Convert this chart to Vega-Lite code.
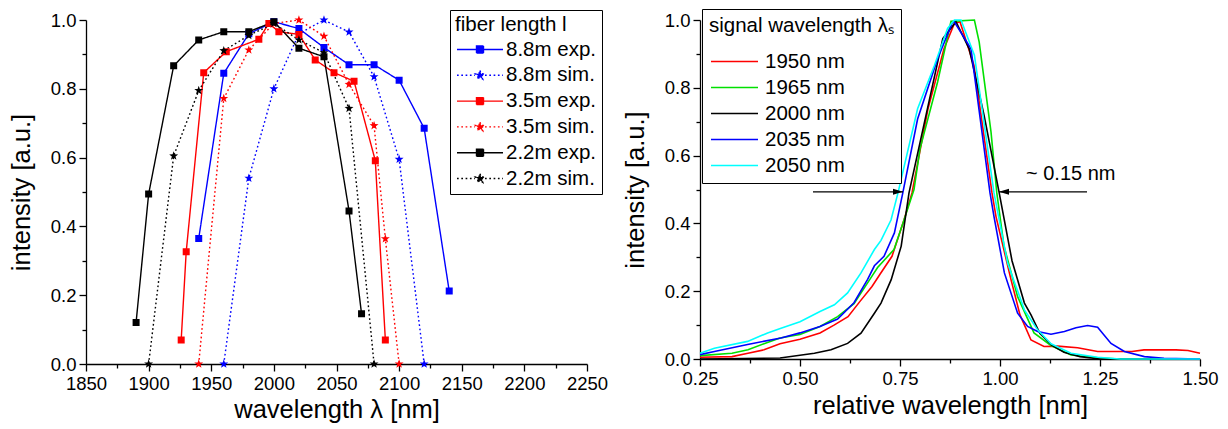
{
  "$schema": "https://vega.github.io/schema/vega-lite/v6.json",
  "background": "white",
  "padding": {"left": 9, "top": 8, "right": 5, "bottom": 5},
  "spacing": 15,
  "config": {
    "font": "Liberation Sans",
    "view": {"stroke": null},
    "axis": {
      "domainColor": "black", "tickColor": "black", "labelColor": "black", "titleColor": "black",
      "labelFont": "Liberation Sans", "titleFont": "Liberation Sans",
      "labelFontSize": 18.5, "titleFontSize": 25.5, "titleFontWeight": "normal",
      "grid": false, "domainWidth": 1.3, "tickWidth": 1.3, "labelOverlap": false, "labelFlush": false
    },
    "legend": {
      "labelFont": "Liberation Sans", "titleFont": "Liberation Sans",
      "labelColor": "black", "titleColor": "black", "titleFontWeight": "normal",
      "strokeColor": "black", "fillColor": "white", "cornerRadius": 0, "titleLimit": 400, "labelLimit": 300
    }
  },
  "datasets": {
    "fiber": [
      {"series": "8.8m exp.", "x": 1940, "y": 0.365}, {"series": "8.8m exp.", "x": 1960, "y": 0.845}, {"series": "8.8m exp.", "x": 1980, "y": 0.96}, {"series": "8.8m exp.", "x": 2000, "y": 0.995}, {"series": "8.8m exp.", "x": 2020, "y": 0.975}, {"series": "8.8m exp.", "x": 2040, "y": 0.92}, {"series": "8.8m exp.", "x": 2060, "y": 0.87}, {"series": "8.8m exp.", "x": 2080, "y": 0.87}, {"series": "8.8m exp.", "x": 2100, "y": 0.825}, {"series": "8.8m exp.", "x": 2120, "y": 0.685}, {"series": "8.8m exp.", "x": 2140, "y": 0.212},
      {"series": "8.8m sim.", "x": 1960, "y": 0}, {"series": "8.8m sim.", "x": 1980, "y": 0.54}, {"series": "8.8m sim.", "x": 2000, "y": 0.8}, {"series": "8.8m sim.", "x": 2020, "y": 0.96}, {"series": "8.8m sim.", "x": 2040, "y": 1.0}, {"series": "8.8m sim.", "x": 2060, "y": 0.965}, {"series": "8.8m sim.", "x": 2080, "y": 0.835}, {"series": "8.8m sim.", "x": 2100, "y": 0.595}, {"series": "8.8m sim.", "x": 2120, "y": 0},
      {"series": "3.5m exp.", "x": 1926, "y": 0.07}, {"series": "3.5m exp.", "x": 1930, "y": 0.326}, {"series": "3.5m exp.", "x": 1944, "y": 0.847}, {"series": "3.5m exp.", "x": 1962, "y": 0.908}, {"series": "3.5m exp.", "x": 1988, "y": 0.944}, {"series": "3.5m exp.", "x": 1996, "y": 0.99}, {"series": "3.5m exp.", "x": 2004, "y": 0.966}, {"series": "3.5m exp.", "x": 2020, "y": 0.958}, {"series": "3.5m exp.", "x": 2033, "y": 0.884}, {"series": "3.5m exp.", "x": 2048, "y": 0.847}, {"series": "3.5m exp.", "x": 2064, "y": 0.822}, {"series": "3.5m exp.", "x": 2081, "y": 0.591}, {"series": "3.5m exp.", "x": 2089, "y": 0.07},
      {"series": "3.5m sim.", "x": 1940, "y": 0}, {"series": "3.5m sim.", "x": 1960, "y": 0.772}, {"series": "3.5m sim.", "x": 1980, "y": 0.913}, {"series": "3.5m sim.", "x": 2000, "y": 0.99}, {"series": "3.5m sim.", "x": 2020, "y": 1.0}, {"series": "3.5m sim.", "x": 2040, "y": 0.953}, {"series": "3.5m sim.", "x": 2060, "y": 0.813}, {"series": "3.5m sim.", "x": 2080, "y": 0.693}, {"series": "3.5m sim.", "x": 2089, "y": 0.364}, {"series": "3.5m sim.", "x": 2100, "y": 0},
      {"series": "2.2m exp.", "x": 1890, "y": 0.121}, {"series": "2.2m exp.", "x": 1900, "y": 0.494}, {"series": "2.2m exp.", "x": 1920, "y": 0.867}, {"series": "2.2m exp.", "x": 1940, "y": 0.942}, {"series": "2.2m exp.", "x": 1960, "y": 0.966}, {"series": "2.2m exp.", "x": 1980, "y": 0.966}, {"series": "2.2m exp.", "x": 2000, "y": 0.995}, {"series": "2.2m exp.", "x": 2020, "y": 0.918}, {"series": "2.2m exp.", "x": 2040, "y": 0.893}, {"series": "2.2m exp.", "x": 2060, "y": 0.445}, {"series": "2.2m exp.", "x": 2070, "y": 0.146},
      {"series": "2.2m sim.", "x": 1900, "y": 0}, {"series": "2.2m sim.", "x": 1920, "y": 0.605}, {"series": "2.2m sim.", "x": 1940, "y": 0.795}, {"series": "2.2m sim.", "x": 1960, "y": 0.911}, {"series": "2.2m sim.", "x": 1980, "y": 0.955}, {"series": "2.2m sim.", "x": 2000, "y": 0.99}, {"series": "2.2m sim.", "x": 2020, "y": 0.942}, {"series": "2.2m sim.", "x": 2040, "y": 0.905}, {"series": "2.2m sim.", "x": 2060, "y": 0.743}, {"series": "2.2m sim.", "x": 2080, "y": 0}
    ],
    "signal": [
      {"s": "1950 nm", "x": 0.25, "y": 0.005}, {"s": "1950 nm", "x": 0.33, "y": 0.007}, {"s": "1950 nm", "x": 0.37, "y": 0.017}, {"s": "1950 nm", "x": 0.41, "y": 0.027}, {"s": "1950 nm", "x": 0.45, "y": 0.045}, {"s": "1950 nm", "x": 0.5, "y": 0.058}, {"s": "1950 nm", "x": 0.55, "y": 0.077}, {"s": "1950 nm", "x": 0.585, "y": 0.1}, {"s": "1950 nm", "x": 0.62, "y": 0.125}, {"s": "1950 nm", "x": 0.65, "y": 0.17}, {"s": "1950 nm", "x": 0.68, "y": 0.214}, {"s": "1950 nm", "x": 0.7, "y": 0.25}, {"s": "1950 nm", "x": 0.73, "y": 0.303}, {"s": "1950 nm", "x": 0.76, "y": 0.41}, {"s": "1950 nm", "x": 0.78, "y": 0.49}, {"s": "1950 nm", "x": 0.82, "y": 0.738}, {"s": "1950 nm", "x": 0.86, "y": 0.915}, {"s": "1950 nm", "x": 0.886, "y": 0.99}, {"s": "1950 nm", "x": 0.9, "y": 0.995}, {"s": "1950 nm", "x": 0.935, "y": 0.866}, {"s": "1950 nm", "x": 0.98, "y": 0.49}, {"s": "1950 nm", "x": 0.99, "y": 0.42}, {"s": "1950 nm", "x": 1.0275, "y": 0.234}, {"s": "1950 nm", "x": 1.05, "y": 0.13}, {"s": "1950 nm", "x": 1.0775, "y": 0.056}, {"s": "1950 nm", "x": 1.11, "y": 0.037}, {"s": "1950 nm", "x": 1.144, "y": 0.038}, {"s": "1950 nm", "x": 1.194, "y": 0.033}, {"s": "1950 nm", "x": 1.244, "y": 0.022}, {"s": "1950 nm", "x": 1.33, "y": 0.022}, {"s": "1950 nm", "x": 1.36, "y": 0.027}, {"s": "1950 nm", "x": 1.44, "y": 0.027}, {"s": "1950 nm", "x": 1.47, "y": 0.025}, {"s": "1950 nm", "x": 1.5, "y": 0.017},
      {"s": "1965 nm", "x": 0.25, "y": 0.01}, {"s": "1965 nm", "x": 0.33, "y": 0.017}, {"s": "1965 nm", "x": 0.37, "y": 0.027}, {"s": "1965 nm", "x": 0.41, "y": 0.045}, {"s": "1965 nm", "x": 0.45, "y": 0.062}, {"s": "1965 nm", "x": 0.5, "y": 0.072}, {"s": "1965 nm", "x": 0.55, "y": 0.096}, {"s": "1965 nm", "x": 0.594, "y": 0.125}, {"s": "1965 nm", "x": 0.635, "y": 0.163}, {"s": "1965 nm", "x": 0.6775, "y": 0.24}, {"s": "1965 nm", "x": 0.694, "y": 0.27}, {"s": "1965 nm", "x": 0.735, "y": 0.323}, {"s": "1965 nm", "x": 0.76, "y": 0.41}, {"s": "1965 nm", "x": 0.785, "y": 0.5}, {"s": "1965 nm", "x": 0.8, "y": 0.62}, {"s": "1965 nm", "x": 0.844, "y": 0.817}, {"s": "1965 nm", "x": 0.8775, "y": 0.996}, {"s": "1965 nm", "x": 0.936, "y": 1.0}, {"s": "1965 nm", "x": 0.948, "y": 0.935}, {"s": "1965 nm", "x": 0.9775, "y": 0.67}, {"s": "1965 nm", "x": 0.992, "y": 0.49}, {"s": "1965 nm", "x": 1.01, "y": 0.333}, {"s": "1965 nm", "x": 1.044, "y": 0.184}, {"s": "1965 nm", "x": 1.085, "y": 0.077}, {"s": "1965 nm", "x": 1.1275, "y": 0.04}, {"s": "1965 nm", "x": 1.1775, "y": 0.012}, {"s": "1965 nm", "x": 1.25, "y": 0.003}, {"s": "1965 nm", "x": 1.3, "y": 0.0}, {"s": "1965 nm", "x": 1.5, "y": 0.0},
      {"s": "2000 nm", "x": 0.25, "y": 0.0}, {"s": "2000 nm", "x": 0.45, "y": 0.003}, {"s": "2000 nm", "x": 0.536, "y": 0.017}, {"s": "2000 nm", "x": 0.5775, "y": 0.027}, {"s": "2000 nm", "x": 0.619, "y": 0.046}, {"s": "2000 nm", "x": 0.6525, "y": 0.076}, {"s": "2000 nm", "x": 0.686, "y": 0.135}, {"s": "2000 nm", "x": 0.7025, "y": 0.165}, {"s": "2000 nm", "x": 0.728, "y": 0.234}, {"s": "2000 nm", "x": 0.753, "y": 0.333}, {"s": "2000 nm", "x": 0.7725, "y": 0.49}, {"s": "2000 nm", "x": 0.857, "y": 0.945}, {"s": "2000 nm", "x": 0.89, "y": 0.995}, {"s": "2000 nm", "x": 0.923, "y": 0.915}, {"s": "2000 nm", "x": 0.96, "y": 0.72}, {"s": "2000 nm", "x": 0.998, "y": 0.49}, {"s": "2000 nm", "x": 1.03, "y": 0.29}, {"s": "2000 nm", "x": 1.061, "y": 0.165}, {"s": "2000 nm", "x": 1.0775, "y": 0.13}, {"s": "2000 nm", "x": 1.1, "y": 0.075}, {"s": "2000 nm", "x": 1.13, "y": 0.04}, {"s": "2000 nm", "x": 1.16, "y": 0.02}, {"s": "2000 nm", "x": 1.2, "y": 0.007}, {"s": "2000 nm", "x": 1.25, "y": 0.0}, {"s": "2000 nm", "x": 1.5, "y": 0.0},
      {"s": "2035 nm", "x": 0.25, "y": 0.013}, {"s": "2035 nm", "x": 0.286, "y": 0.022}, {"s": "2035 nm", "x": 0.369, "y": 0.043}, {"s": "2035 nm", "x": 0.4525, "y": 0.062}, {"s": "2035 nm", "x": 0.5, "y": 0.077}, {"s": "2035 nm", "x": 0.55, "y": 0.096}, {"s": "2035 nm", "x": 0.594, "y": 0.118}, {"s": "2035 nm", "x": 0.635, "y": 0.166}, {"s": "2035 nm", "x": 0.669, "y": 0.235}, {"s": "2035 nm", "x": 0.686, "y": 0.275}, {"s": "2035 nm", "x": 0.71, "y": 0.303}, {"s": "2035 nm", "x": 0.736, "y": 0.372}, {"s": "2035 nm", "x": 0.757, "y": 0.49}, {"s": "2035 nm", "x": 0.794, "y": 0.708}, {"s": "2035 nm", "x": 0.844, "y": 0.886}, {"s": "2035 nm", "x": 0.88, "y": 0.99}, {"s": "2035 nm", "x": 0.885, "y": 0.996}, {"s": "2035 nm", "x": 0.9275, "y": 0.915}, {"s": "2035 nm", "x": 0.975, "y": 0.49}, {"s": "2035 nm", "x": 0.985, "y": 0.42}, {"s": "2035 nm", "x": 1.011, "y": 0.254}, {"s": "2035 nm", "x": 1.044, "y": 0.135}, {"s": "2035 nm", "x": 1.069, "y": 0.096}, {"s": "2035 nm", "x": 1.094, "y": 0.081}, {"s": "2035 nm", "x": 1.1275, "y": 0.073}, {"s": "2035 nm", "x": 1.161, "y": 0.081}, {"s": "2035 nm", "x": 1.19, "y": 0.092}, {"s": "2035 nm", "x": 1.219, "y": 0.099}, {"s": "2035 nm", "x": 1.244, "y": 0.094}, {"s": "2035 nm", "x": 1.2775, "y": 0.046}, {"s": "2035 nm", "x": 1.311, "y": 0.022}, {"s": "2035 nm", "x": 1.361, "y": 0.007}, {"s": "2035 nm", "x": 1.41, "y": 0.002}, {"s": "2035 nm", "x": 1.5, "y": 0.0},
      {"s": "2050 nm", "x": 0.25, "y": 0.017}, {"s": "2050 nm", "x": 0.286, "y": 0.032}, {"s": "2050 nm", "x": 0.369, "y": 0.052}, {"s": "2050 nm", "x": 0.419, "y": 0.077}, {"s": "2050 nm", "x": 0.4525, "y": 0.091}, {"s": "2050 nm", "x": 0.5, "y": 0.11}, {"s": "2050 nm", "x": 0.55, "y": 0.14}, {"s": "2050 nm", "x": 0.586, "y": 0.16}, {"s": "2050 nm", "x": 0.619, "y": 0.195}, {"s": "2050 nm", "x": 0.6525, "y": 0.254}, {"s": "2050 nm", "x": 0.686, "y": 0.323}, {"s": "2050 nm", "x": 0.7025, "y": 0.35}, {"s": "2050 nm", "x": 0.7275, "y": 0.41}, {"s": "2050 nm", "x": 0.745, "y": 0.49}, {"s": "2050 nm", "x": 0.794, "y": 0.738}, {"s": "2050 nm", "x": 0.836, "y": 0.866}, {"s": "2050 nm", "x": 0.869, "y": 0.975}, {"s": "2050 nm", "x": 0.886, "y": 1.0}, {"s": "2050 nm", "x": 0.9025, "y": 1.0}, {"s": "2050 nm", "x": 0.936, "y": 0.896}, {"s": "2050 nm", "x": 0.985, "y": 0.49}, {"s": "2050 nm", "x": 1.019, "y": 0.283}, {"s": "2050 nm", "x": 1.061, "y": 0.145}, {"s": "2050 nm", "x": 1.094, "y": 0.086}, {"s": "2050 nm", "x": 1.1275, "y": 0.045}, {"s": "2050 nm", "x": 1.1775, "y": 0.017}, {"s": "2050 nm", "x": 1.244, "y": 0.005}, {"s": "2050 nm", "x": 1.3, "y": 0.0}, {"s": "2050 nm", "x": 1.5, "y": 0.0}
    ],
    "arrows": [
      {"dir": "right", "from": 0.5325, "to": 0.7575, "y": 0.493},
      {"dir": "left", "from": 1.2175, "to": 0.9975, "y": 0.493}
    ],
    "note": [{"x": 1.065, "y": 0.545, "label": "~ 0.15 nm"}]
  },
  "hconcat": [
    {
      "width": 501, "height": 344,
      "data": {"name": "fiber"},
      "encoding": {
        "x": {"field": "x", "type": "quantitative",
          "scale": {"domain": [1850, 2250], "nice": false, "zero": false},
          "axis": {"title": "wavelength λ [nm]",
            "values": [1850, 1875, 1900, 1925, 1950, 1975, 2000, 2025, 2050, 2075, 2100, 2125, 2150, 2175, 2200, 2225, 2250],
            "labelExpr": "datum.value % 50 === 0 ? datum.label : ''", "format": "d",
            "tickSize": {"condition": {"test": "datum.value % 50 !== 0", "value": 4}, "value": 7},
            "labelPadding": 3, "titlePadding": 5}},
        "y": {"field": "y", "type": "quantitative",
          "scale": {"domain": [0, 1.0], "nice": false},
          "axis": {"title": "intensity [a.u.]",
            "values": [0, 0.1, 0.2, 0.3, 0.4, 0.5, 0.6, 0.7, 0.8, 0.9, 1.0],
            "labelExpr": "round(datum.value * 10) % 2 === 0 ? format(datum.value, '.1f') : ''",
            "tickSize": {"condition": {"test": "round(datum.value * 10) % 2 === 1", "value": 4}, "value": 7},
            "labelPadding": 3, "titlePadding": 16}}
      },
      "layer": [
        {
          "mark": {"type": "line", "strokeWidth": 1.4},
          "encoding": {
            "color": {"field": "series", "type": "nominal",
              "scale": {"domain": ["8.8m exp.", "8.8m sim.", "3.5m exp.", "3.5m sim.", "2.2m exp.", "2.2m sim."],
                "range": ["#0000ff", "#0000ff", "#ff0000", "#ff0000", "#000000", "#000000"]},
              "legend": {"title": "fiber length l", "orient": "none", "legendX": 364, "legendY": -10,
                "padding": 5, "symbolOffset": 14, "labelOffset": 15, "rowPadding": 3.8, "titlePadding": 3,
                "labelFontSize": 20.5, "titleFontSize": 20.5, "symbolSize": 400, "symbolStrokeWidth": 1.4,
                "encode": {"symbols": {"update": {
                  "fill": {"scale": "color", "field": "value"},
                  "stroke": {"scale": "color", "field": "value"},
                  "strokeDash": {"scale": "strokeDash", "field": "value"},
                  "shape": {"scale": "shape", "field": "value"},
                  "opacity": {"value": 1}, "fillOpacity": {"value": 1}, "strokeWidth": {"value": 1.4}}}}}},
            "strokeDash": {"field": "series", "type": "nominal",
              "scale": {"domain": ["8.8m exp.", "8.8m sim.", "3.5m exp.", "3.5m sim.", "2.2m exp.", "2.2m sim."],
                "range": [[1, 0], [1.7, 2.6], [1, 0], [1.7, 2.6], [1, 0], [1.7, 2.6]]},
              "legend": {"title": "fiber length l", "orient": "none", "legendX": 364, "legendY": -10}}
          }
        },
        {
          "mark": {"type": "point", "filled": true, "size": 400, "opacity": 1},
          "encoding": {
            "color": {"field": "series", "type": "nominal"},
            "shape": {"field": "series", "type": "nominal",
              "scale": {"domain": ["8.8m exp.", "8.8m sim.", "3.5m exp.", "3.5m sim.", "2.2m exp.", "2.2m sim."],
                "range": [
                  "M-2.3,0H2.3M-0.35,-0.35H0.35V0.35H-0.35Z",
                  "M-2.3,0H-0.5M0.5,0H2.3M0,-0.47L0.112,-0.154L0.447,-0.145L0.181,0.059L0.276,0.38L0,0.19L-0.276,0.38L-0.181,0.059L-0.447,-0.145L-0.112,-0.154Z",
                  "M-2.3,0H2.3M-0.35,-0.35H0.35V0.35H-0.35Z",
                  "M-2.3,0H-0.5M0.5,0H2.3M0,-0.47L0.112,-0.154L0.447,-0.145L0.181,0.059L0.276,0.38L0,0.19L-0.276,0.38L-0.181,0.059L-0.447,-0.145L-0.112,-0.154Z",
                  "M-2.3,0H2.3M-0.35,-0.35H0.35V0.35H-0.35Z",
                  "M-2.3,0H-0.5M0.5,0H2.3M0,-0.47L0.112,-0.154L0.447,-0.145L0.181,0.059L0.276,0.38L0,0.19L-0.276,0.38L-0.181,0.059L-0.447,-0.145L-0.112,-0.154Z"
                ]},
              "legend": {"title": "fiber length l", "orient": "none", "legendX": 364, "legendY": -10}}
          }
        }
      ]
    },
    {
      "width": 500, "height": 339,
      "encoding": {
        "x": {"field": "x", "type": "quantitative",
          "scale": {"domain": [0.25, 1.5], "nice": false, "zero": false},
          "axis": {"title": "relative wavelength [nm]",
            "values": [0.25, 0.375, 0.5, 0.625, 0.75, 0.875, 1.0, 1.125, 1.25, 1.375, 1.5],
            "labelExpr": "abs(datum.value * 4 - round(datum.value * 4)) < 0.01 ? format(datum.value, '.2f') : ''",
            "tickSize": {"condition": {"test": "abs(datum.value * 4 - round(datum.value * 4)) > 0.01", "value": 4}, "value": 7},
            "labelPadding": 3, "titlePadding": 6}},
        "y": {"field": "y", "type": "quantitative",
          "scale": {"domain": [0, 1.0], "nice": false},
          "axis": {"title": "intensity [a.u.]",
            "values": [0, 0.1, 0.2, 0.3, 0.4, 0.5, 0.6, 0.7, 0.8, 0.9, 1.0],
            "labelExpr": "round(datum.value * 10) % 2 === 0 ? format(datum.value, '.1f') : ''",
            "tickSize": {"condition": {"test": "round(datum.value * 10) % 2 === 1", "value": 4}, "value": 7},
            "labelPadding": 3, "titlePadding": 16}}
      },
      "layer": [
        {
          "data": {"name": "signal"},
          "mark": {"type": "line", "strokeWidth": 1.6},
          "encoding": {
            "stroke": {"field": "s", "type": "nominal",
              "scale": {"domain": ["1950 nm", "1965 nm", "2000 nm", "2035 nm", "2050 nm"],
                "range": ["#ff0000", "#00e000", "#000000", "#0000ff", "#00ffff"]},
              "legend": {"title": "signal wavelength λₛ", "orient": "none", "legendX": 616, "legendY": -11,
                "padding": 7, "symbolOffset": 1, "labelOffset": 33, "rowPadding": 4, "titlePadding": 14,
                "labelFontSize": 20.5, "titleFontSize": 20.5, "symbolSize": 400, "symbolStrokeWidth": 1.6,
                "symbolType": "M-1,0H3.7"}}
          }
        },
        {
          "data": {"name": "arrows"},
          "mark": {"type": "rule", "color": "black", "strokeWidth": 1.3},
          "encoding": {"x": {"field": "from", "type": "quantitative"}, "x2": {"field": "to"}, "y": {"field": "y", "type": "quantitative"}}
        },
        {
          "data": {"name": "arrows"},
          "transform": [{"filter": "datum.dir === 'right'"}],
          "mark": {"type": "point", "filled": true, "color": "black", "opacity": 1, "size": 100, "shape": "M0,0L-2,-0.6L-2,0.6Z"},
          "encoding": {"x": {"field": "to", "type": "quantitative"}, "y": {"field": "y", "type": "quantitative"}}
        },
        {
          "data": {"name": "arrows"},
          "transform": [{"filter": "datum.dir === 'left'"}],
          "mark": {"type": "point", "filled": true, "color": "black", "opacity": 1, "size": 100, "shape": "M0,0L2,-0.6L2,0.6Z"},
          "encoding": {"x": {"field": "to", "type": "quantitative"}, "y": {"field": "y", "type": "quantitative"}}
        },
        {
          "data": {"name": "note"},
          "mark": {"type": "text", "align": "left", "baseline": "middle", "fontSize": 20, "color": "black"},
          "encoding": {"x": {"field": "x", "type": "quantitative"}, "y": {"field": "y", "type": "quantitative"}, "text": {"field": "label"}}
        }
      ]
    }
  ]
}
